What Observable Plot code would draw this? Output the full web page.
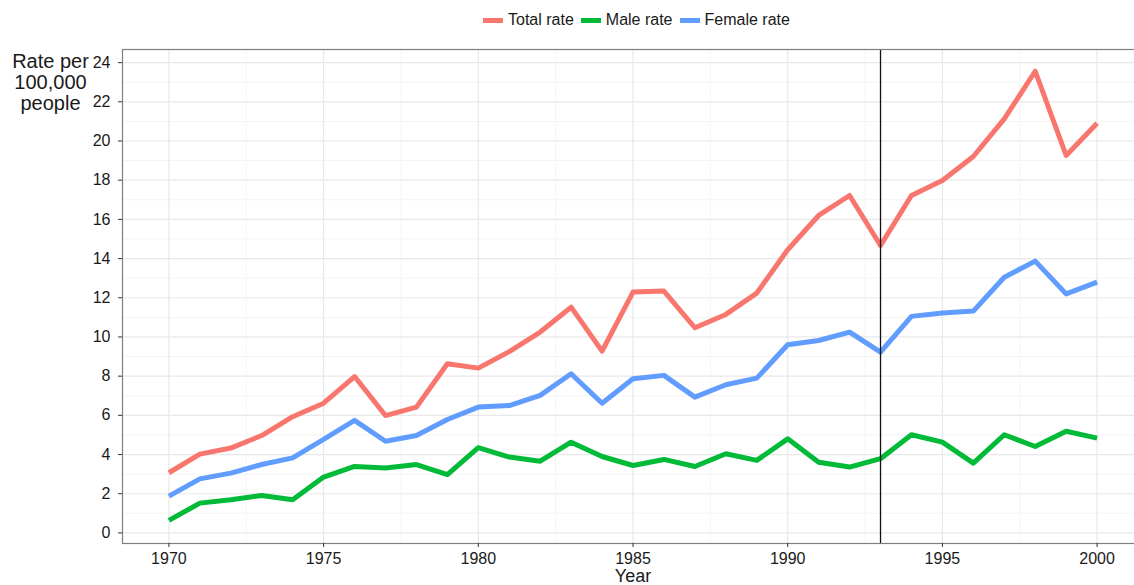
<!DOCTYPE html>
<html>
<head>
<meta charset="utf-8">
<script src="https://cdn.jsdelivr.net/npm/d3@7"></script>
<script src="https://cdn.jsdelivr.net/npm/@observablehq/plot@0.6"></script>
<style>
  html, body { margin: 0; padding: 0; background: white; overflow: hidden; width: 1134px; height: 585px; }
  body { position: relative; font-family: "Liberation Sans", Arial, sans-serif; }
  #legend { position: absolute; top: 0; left: 483px; height: 40px; display: flex; align-items: center; font-size: 16px; color: #1a1a1a; white-space: nowrap; }
  #legend .sw { display: inline-block; width: 20px; height: 5px; margin-right: 5px; }
  #legend .lab { margin-right: 7px; }
  #chart { position: absolute; top: 40px; left: 0; width: 1150px; }
  #chart svg { max-width: none !important; }
</style>
</head>
<body>
<div id="legend"></div>
<div id="chart"></div>
<script>
const years = [1970, 1971, 1972, 1973, 1974, 1975, 1976, 1977, 1978, 1979,
               1980, 1981, 1982, 1983, 1984, 1985, 1986, 1987, 1988, 1989,
               1990, 1991, 1992, 1993, 1994, 1995, 1996, 1997, 1998, 1999, 2000];
const totalRate = [3.07, 4.02, 4.33, 4.97, 5.93, 6.62, 7.98, 5.99, 6.42, 8.63,
                   8.41, 9.25, 10.25, 11.52, 9.28, 12.29, 12.34, 10.47, 11.15, 12.24,
                   14.45, 16.2, 17.22, 14.67, 17.22, 17.98, 19.21, 21.13, 23.56, 19.26, 20.91];
const maleRate = [0.64, 1.52, 1.69, 1.91, 1.69, 2.85, 3.39, 3.31, 3.49, 2.97,
                  4.35, 3.87, 3.66, 4.63, 3.9, 3.44, 3.75, 3.39, 4.04, 3.7,
                  4.8, 3.61, 3.36, 3.79, 5.01, 4.63, 3.56, 5.01, 4.41, 5.19, 4.84];
const femaleRate = [1.88, 2.76, 3.05, 3.49, 3.83, 4.77, 5.74, 4.68, 4.97, 5.79,
                    6.42, 6.5, 7.02, 8.12, 6.62, 7.87, 8.04, 6.93, 7.56, 7.9,
                    9.6, 9.82, 10.25, 9.23, 11.05, 11.22, 11.32, 13.05, 13.87, 12.2, 12.8];
const seriesNames = ["Total rate", "Male rate", "Female rate"];
const seriesColors = ["#F8766D", "#00BA38", "#619CFF"];
const xMajor = [1970, 1975, 1980, 1985, 1990, 1995, 2000];
const xMinor = [1972.5, 1977.5, 1982.5, 1987.5, 1992.5, 1997.5];
const yMajor = [0, 2, 4, 6, 8, 10, 12, 14, 16, 18, 20, 22, 24];
const yMinor = [1, 3, 5, 7, 9, 11, 13, 15, 17, 19, 21, 23];
const markerYear = [1993];
const yTitle = "Rate per\n100,000\npeople";
const xTitle = "Year";

const seriesValues = [totalRate, maleRate, femaleRate];
const data = [];
seriesNames.forEach((name, i) => {
  years.forEach((yr, j) => data.push({series: name, year: yr, rate: seriesValues[i][j]}));
});

const font = '"Liberation Sans", Arial, sans-serif';
const chart = Plot.plot({
  width: 1150,
  height: 560,
  marginLeft: 122,
  marginRight: 7,
  marginTop: 9,
  marginBottom: 57,
  x: {domain: [1968.5, 2001.5]},
  y: {domain: [-0.54, 24.67]},
  color: {domain: seriesNames, range: seriesColors},
  style: {fontFamily: font, fontSize: "16px", color: "#1a1a1a", background: "white", overflow: "visible", maxWidth: "none"},
  marks: [
    Plot.ruleY(yMinor, {stroke: "#f4f4f4", strokeWidth: 1}),
    Plot.ruleX(xMinor, {stroke: "#f4f4f4", strokeWidth: 1}),
    Plot.ruleY(yMajor, {stroke: "#e8e8e8", strokeWidth: 1.2}),
    Plot.ruleX(xMajor, {stroke: "#e8e8e8", strokeWidth: 1.2}),
    Plot.line(data, {x: "year", y: "rate", z: "series", stroke: "series", strokeWidth: 5, strokeLinejoin: "round", strokeLinecap: "butt"}),
    Plot.ruleX(markerYear, {stroke: "#111", strokeWidth: 1.3}),
    Plot.frame({stroke: "#7f7f7f", strokeWidth: 1.2}),
    Plot.axisX(xMajor, {tickSize: 4, tickPadding: 5, tickFormat: d => String(d), label: null, fontSize: 16, stroke: "#333"}),
    Plot.axisY(yMajor, {tickSize: 4, tickPadding: 8, label: null, fontSize: 16, stroke: "#333"}),
    Plot.text([xTitle], {frameAnchor: "bottom", dy: 26, lineAnchor: "top", textAnchor: "middle", fontSize: 18, fill: "#1a1a1a"}),
    Plot.text([yTitle], {frameAnchor: "top-left", dx: -72, dy: 4, lineAnchor: "top", textAnchor: "middle", fontSize: 20, lineHeight: 1.05, fill: "#1a1a1a"})
  ]
});
document.getElementById("chart").appendChild(chart);

const legend = document.getElementById("legend");
seriesNames.forEach((name, i) => {
  const sw = document.createElement("span");
  sw.className = "sw";
  sw.style.background = seriesColors[i];
  const lab = document.createElement("span");
  lab.className = "lab";
  lab.textContent = name;
  legend.appendChild(sw);
  legend.appendChild(lab);
});
</script>
</body>
</html>
